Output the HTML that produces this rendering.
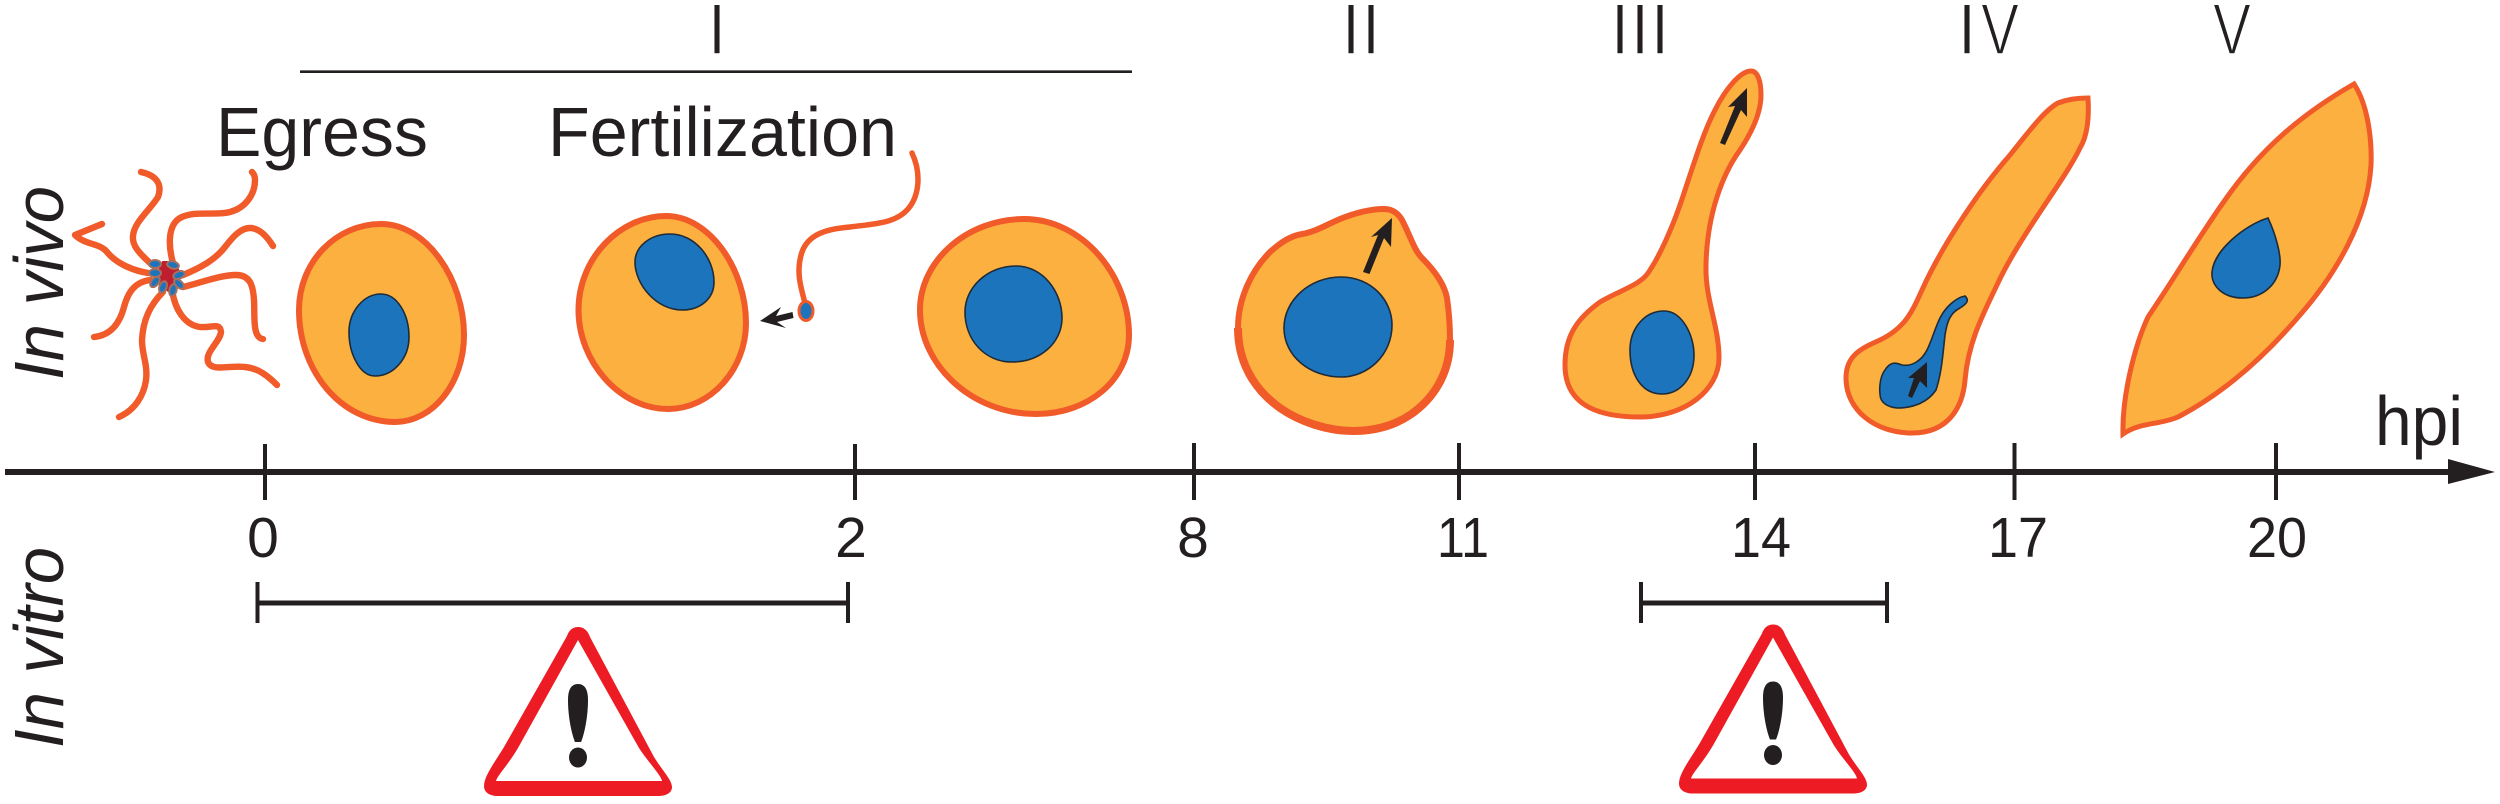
<!DOCTYPE html>
<html><head><meta charset="utf-8"><style>
html,body{margin:0;padding:0;background:#fff}
svg{display:block}
text{font-family:"Liberation Sans",Arial,sans-serif;fill:#231f20}
.c{fill:#fbb040;stroke:#f15a29;stroke-width:6;stroke-linejoin:round}
.c5{fill:#fbb040;stroke:#f15a29;stroke-width:5;stroke-linejoin:miter}
.n{fill:#1c75bc;stroke:#1d2b3a;stroke-width:1.6}
.t{fill:none;stroke:#f15a29;stroke-width:6.4;stroke-linecap:round;stroke-linejoin:round}
.s{fill:none;stroke:#f15a29;stroke-width:5.5;stroke-linecap:round;stroke-linejoin:round}
.k{stroke:#231f20;fill:none}
.a{fill:#231f20}
.h{fill:#1c75bc;stroke:#a5705f;stroke-width:2}
.r{stroke:#fff;stroke-width:1.600}
</style></head><body>
<svg width="2500" height="804" viewBox="0 0 2500 804" xmlns="http://www.w3.org/2000/svg">
<rect width="2500" height="804" fill="#fff"/>

<!-- Stage labels -->
<text class="r" x="707" y="54" font-size="72">I</text>
<line class="k" x1="300" y1="71.7" x2="1132" y2="71.7" stroke-width="2.6"/>
<text class="r" x="1341" y="54" font-size="72">II</text>
<text class="r" x="1610" y="54" font-size="72" textLength="60" lengthAdjust="spacing">III</text>
<text class="r" x="1957" y="54" font-size="72">I</text>
<text class="r" x="1981" y="54" font-size="72" textLength="38" lengthAdjust="spacingAndGlyphs">V</text>
<text class="r" x="2213" y="54" font-size="72" textLength="38" lengthAdjust="spacingAndGlyphs">V</text>

<text x="216" y="156" font-size="70" textLength="212" lengthAdjust="spacingAndGlyphs">Egress</text>
<text x="548" y="156" font-size="70" textLength="349" lengthAdjust="spacingAndGlyphs">Fertilization</text>
<text x="2375" y="445" font-size="70" textLength="88" lengthAdjust="spacingAndGlyphs">hpi</text>

<text transform="translate(63,380) rotate(-90)" font-size="70" font-style="italic" textLength="194" lengthAdjust="spacingAndGlyphs">In vivo</text>
<text transform="translate(63,748) rotate(-90)" font-size="70" font-style="italic" textLength="201" lengthAdjust="spacingAndGlyphs">In vitro</text>

<!-- Sporozoites -->
<path class="t" d="M150 263 C138 252 132 245 133 236 C134 222 150 210 158 197 C163 183 155 175 141 172"/>
<path class="t" d="M173 263 C168 245 168 225 180 218 C195 210 215 216 230 212 C245 208 255 195 255 180 Q255 175 252 172"/>
<path class="t" d="M183 275 C200 268 215 260 225 247 C232 238 240 228 250 228 C260 228 268 238 273 246"/>
<path class="t" d="M183 287 C200 283 220 275 236 275 C250 275 253 285 254 300 C255 315 252 338 263 339"/>
<path class="t" d="M172 290 C175 310 185 325 200 327 C212 328 220 322 221 332 C220 342 205 352 208 362 C212 372 230 365 245 367 C258 368 268 376 277 385"/>
<path class="t" d="M163 292 C150 305 143 320 142 340 C142 355 148 365 146 380 C144 395 135 410 119 417"/>
<path class="t" d="M150 280 C135 282 128 292 124 307 C120 322 112 335 94 337"/>
<path class="t" d="M148 273 C130 270 115 262 107 252 C100 243 85 245 75 235 L102 224"/>
<path d="M163 262 L175 262 L179 272 L176 285 L170 292 L160 285 L158 272Z" fill="#be1e2d" stroke="#be1e2d" stroke-width="2"/>
<ellipse class="h" cx="155" cy="264" rx="6" ry="4"/>
<ellipse class="h" cx="155" cy="273" rx="6" ry="4"/>
<ellipse class="h" cx="155" cy="282" rx="6" ry="3.6" transform="rotate(-50 155 282)"/>
<ellipse class="h" cx="163" cy="287" rx="6" ry="3.6" transform="rotate(-70 163 287)"/>
<ellipse class="h" cx="173" cy="290" rx="6" ry="3.6" transform="rotate(-75 173 290)"/>
<ellipse class="h" cx="179" cy="284" rx="6" ry="3.4" transform="rotate(45 179 284)"/>
<ellipse class="h" cx="179" cy="275" rx="6" ry="3.6" transform="rotate(-20 179 275)"/>
<ellipse class="h" cx="173" cy="265" rx="6" ry="3.6" transform="rotate(15 173 265)"/>

<!-- Cell 1 -->
<path class="c" d="M381 224 C427 224 464 280 464 335 C464 383 433 422 395 422 C342 422 299 372 299 310 C299 262 336 224 381 224Z"/>
<path class="n" d="M381 294 C397 294 409 314 409 337 C409 359 393 376 375 376 C360 376 349 354 349 332 C349 311 364 294 381 294Z"/>

<!-- Cell 2 -->
<path class="c" d="M666 216 C710 216 746 270 746 323 C746 370 710 409 668 409 C620 409 578.500 362 578.500 310 C578.500 258 620 216 666 216Z"/>
<path class="n" d="M670 234 C695 234 714 258 714 282 C714 299 700 310 682 310 C656 310 635 284 635 262 C635 246 651 234 670 234Z"/>

<!-- Sperm -->
<path class="s" d="M912 153 C921 172 920 195 908 209 C895 224 872 224 850 227 C825 229 808 235 802 252 C796 270 800 285 805 303"/>
<ellipse cx="806" cy="311" rx="7" ry="9.500" fill="#1c75bc" stroke="#f15a29" stroke-width="3"/>
<path class="a" d="M760 321 L781 307 L776 316 L792.500 312 L793.500 318 L777 322 L786 328Z"/>

<!-- Cell 3 -->
<path class="c" d="M1024 219 C1082 219 1129 275 1129 335 C1129 380 1088 414 1036 414 C972 414 920 365 920 310 C920 260 968 219 1024 219Z"/>
<path class="n" d="M1016 266 C1043 266 1062 292 1062 318 C1062 343 1040 362 1012 362 C985 362 965 340 965 312 C965 287 988 266 1016 266Z"/>

<!-- Cell 4 (II) -->
<path class="c" d="M1384 209 C1392 209 1398 213 1402 220 C1410 235 1414 250 1422 258 C1432 268 1444 282 1447 298 C1449 312 1450 325 1450 340 C1450 375 1432 400 1410 415 C1392 427 1372 431 1353 431 C1328 431 1300 422 1280 408 C1252 388 1238 360 1238 328 C1238 298 1252 270 1270 252 C1280 243 1290 236 1302 234 C1315 232 1328 224 1340 219 C1355 213 1370 209 1384 209Z"/>
<path d="M1450 340 C1450 375 1432 400 1410 415 C1392 427 1372 431 1353 431 C1328 431 1300 422 1280 408 C1252 388 1238 360 1238 328" fill="none" stroke="#f15a29" stroke-width="8"/>
<path class="n" d="M1341 277 C1371 277 1392 300 1392 325 C1392 355 1368 377 1341 377 C1310 377 1284 356 1284 328 C1284 300 1310 277 1341 277Z"/>
<path class="a" d="M1392 218 L1391 247 L1384 238 L1369.500 274 L1363 272 L1378 235 L1371 237Z"/>

<!-- Cell 5 (III) -->
<path class="c5" d="M1751 71 C1758 71 1761 82 1761 95 C1761 115 1750 135 1740 150 C1722 175 1707 215 1706 265 C1705 300 1719 325 1719 358 C1719 390 1685 417 1640 417 C1590 417 1565 400 1565 365 C1565 335 1578 318 1600 302 C1620 290 1642 285 1650 270 C1660 255 1672 228 1680 205 C1692 170 1702 135 1715 110 C1725 90 1740 71 1751 71Z"/>
<path class="n" d="M1664 311 C1682 311 1694 335 1694 355 C1694 378 1680 394 1662 394 C1642 394 1630 375 1630 350 C1630 328 1645 311 1664 311Z"/>
<path class="a" d="M1747 88 L1747 117 L1741 110 L1725 145 L1720 143 L1735 106 L1728 107Z"/>

<!-- Cell 6 (IV) -->
<path class="c5" d="M2088 98 C2089 115 2088 135 2080 148 C2065 180 2020 235 1997 285 C1980 320 1968 345 1965 380 C1963 405 1950 433 1912 433 C1875 433 1846 410 1846 378 C1846 355 1862 348 1880 340 C1905 328 1912 312 1922 290 C1940 250 1975 195 2010 155 C2030 130 2045 110 2058 103 C2068 99 2080 98 2088 98Z"/>
<path class="n" d="M1965 296 C1969 300 1968 303 1960 308 C1950 313 1947 322 1945 335 C1943 352 1942 372 1936 390 C1928 402 1914 408 1897 408 C1888 407 1880 403 1880 394 C1879 385 1881 375 1885 370 C1890 362 1895 362 1902 365 C1912 367 1922 360 1927 350 C1932 340 1935 328 1940 318 C1945 308 1955 298 1965 296Z"/>
<path class="a" d="M1927 362 L1927 388 L1920 381 L1912 398 L1908 396 L1914 378 L1908 378Z"/>

<!-- Cell 7 (V) -->
<path class="c5" d="M2354 84 C2368 105 2372 140 2371 165 C2368 220 2335 275 2300 315 C2260 362 2220 395 2178 417 C2160 425 2140 422 2123 434 C2122 395 2135 345 2148 317 C2170 285 2200 235 2225 200 C2260 150 2300 115 2354 84Z"/>
<path class="n" d="M2268 218 C2276 235 2281 255 2280 265 C2278 285 2262 298 2243 298 C2222 298 2211 285 2212 272 C2214 250 2245 225 2268 218Z"/>

<!-- Axis -->
<line class="k" x1="5" y1="472" x2="2452" y2="472" stroke-width="6"/>
<path class="a" d="M2448 459 L2495 472 L2448 484Z"/>
<g class="k" stroke-width="4">
<line x1="265" y1="444" x2="265" y2="500"/>
<line x1="855" y1="444" x2="855" y2="500"/>
<line x1="1194" y1="443" x2="1194" y2="500"/>
<line x1="1459" y1="443" x2="1459" y2="500"/>
<line x1="1755" y1="443" x2="1755" y2="500"/>
<line x1="2014.500" y1="443" x2="2014.500" y2="500"/>
<line x1="2276" y1="443" x2="2276" y2="500"/>
</g>
<g font-size="57">
<text x="263" y="557" text-anchor="middle">0</text>
<text x="851" y="557" text-anchor="middle">2</text>
<text x="1193" y="557" text-anchor="middle">8</text>
<text x="1437" y="557" textLength="52" lengthAdjust="spacingAndGlyphs">11</text>
<text x="1731" y="557" textLength="60" lengthAdjust="spacingAndGlyphs">14</text>
<text x="1988" y="557" textLength="60" lengthAdjust="spacingAndGlyphs">17</text>
<text x="2247" y="557" textLength="60" lengthAdjust="spacingAndGlyphs">20</text>
</g>

<!-- Brackets -->
<g class="k">
<line x1="257.500" y1="603" x2="848" y2="603" stroke-width="5"/>
<line x1="257.500" y1="582" x2="257.500" y2="623" stroke-width="4"/>
<line x1="848" y1="582" x2="848" y2="623" stroke-width="4"/>
<line x1="1641" y1="603" x2="1887" y2="603" stroke-width="5"/>
<line x1="1641" y1="582" x2="1641" y2="623" stroke-width="4"/>
<line x1="1887" y1="582" x2="1887" y2="623" stroke-width="4"/>
</g>

<!-- Warning triangles -->
<g>
<path fill="#ed1c24" fill-rule="evenodd" d="M578 627 C584 627 588 631 590 637 L654 757 C662 770 672 780 672 787 C672 793 666 796 658 796 L498 796 C489 796 484 792 484 786 C484 776 495 762 504 747 L567 636 C569 630 573 627 578 627Z M578 640 L518 748 C508 765 497 776 496 781 L662 781 C661 775 648 762 639 748Z"/>
<path class="a" d="M578 684 C585 684 588 690 588 700 C588 718 584 735 581 742 L575 742 C572 735 568 718 568 700 C568 690 571 684 578 684Z"/>
<ellipse class="a" cx="578" cy="757.500" rx="9" ry="10"/>
</g>
<g transform="translate(1195,-2.500)">
<path fill="#ed1c24" fill-rule="evenodd" d="M578 627 C584 627 588 631 590 637 L654 757 C662 770 672 780 672 787 C672 793 666 796 658 796 L498 796 C489 796 484 792 484 786 C484 776 495 762 504 747 L567 636 C569 630 573 627 578 627Z M578 640 L518 748 C508 765 497 776 496 781 L662 781 C661 775 648 762 639 748Z"/>
<path class="a" d="M578 684 C585 684 588 690 588 700 C588 718 584 735 581 742 L575 742 C572 735 568 718 568 700 C568 690 571 684 578 684Z"/>
<ellipse class="a" cx="578" cy="757.500" rx="9" ry="10"/>
</g>
</svg>
</body></html>
